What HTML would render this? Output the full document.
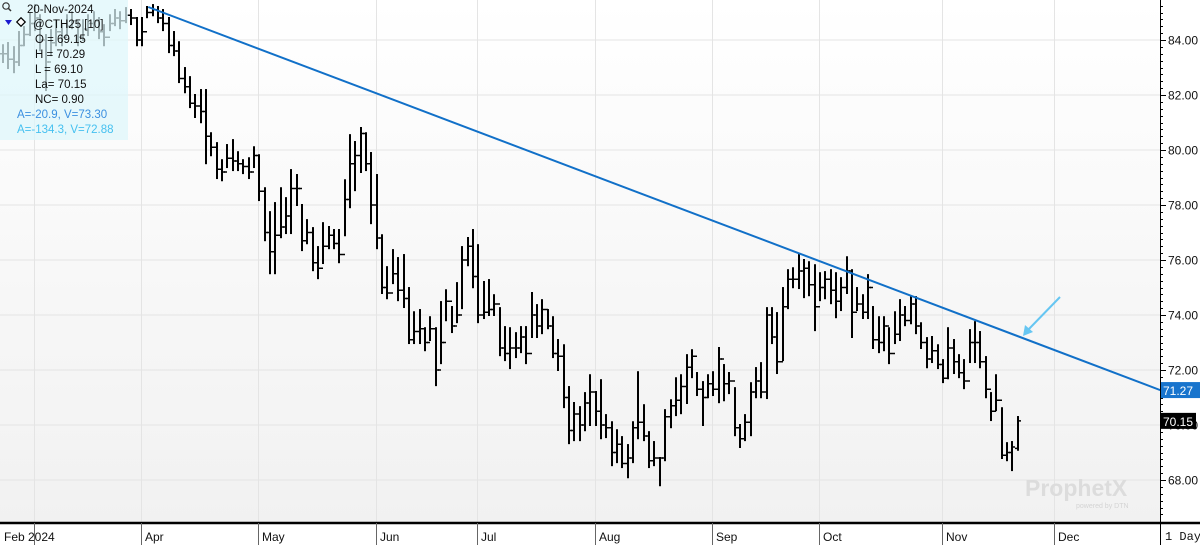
<!DOCTYPE html>
<html><head><meta charset="utf-8"><style>
html,body{margin:0;padding:0;background:#fff;width:1200px;height:545px;overflow:hidden}
svg{display:block;font-family:"Liberation Sans",sans-serif}
</style></head><body>
<svg id="chart" width="1200" height="545" viewBox="0 0 1200 545" xmlns="http://www.w3.org/2000/svg">
<defs>
<linearGradient id="bg" x1="0" y1="0" x2="0" y2="1"><stop offset="0" stop-color="#ffffff"/><stop offset="1" stop-color="#f1f1f1"/></linearGradient>
<clipPath id="plotclip"><rect x="0" y="0" width="1160" height="523"/></clipPath>
</defs>
<rect x="0" y="0" width="1160" height="523" fill="url(#bg)"/>
<rect x="1160" y="0" width="40" height="545" fill="#fff"/>
<g id="grid"></g>
<g id="bars" clip-path="url(#plotclip)"></g>
<g id="trend" clip-path="url(#plotclip)"></g>
<g>
<text x="1025" y="496" font-size="23" font-weight="bold" fill="#dcdcdc">ProphetX</text>
<text x="1076" y="508" font-size="7" fill="#d4d4d4">powered by DTN</text>
</g>
<g>
<line x1="1060" y1="297" x2="1027" y2="331" stroke="#66c6f2" stroke-width="2"/>
<polygon points="1023,336 1025,325 1033,332" fill="#66c6f2"/>
</g>
<g>
<rect x="0" y="0" width="128" height="140" fill="rgba(222,247,251,0.72)"/>
<g><circle cx="6" cy="6" r="3.2" fill="none" stroke="#333" stroke-width="1.2"/><line x1="8.5" y1="8.5" x2="11" y2="11" stroke="#333" stroke-width="1.5"/></g>
<text x="27" y="13" font-size="11.5" fill="#111">20-Nov-2024</text>
<polygon points="5,20 12,20 8.5,25" fill="#1a1ad0"/>
<rect x="18" y="19" width="6" height="6" transform="rotate(45 21 22)" fill="#fff" stroke="#000" stroke-width="1.2"/>
<text x="33" y="28" font-size="11.5" fill="#111">@CTH25 [10]</text>
<text x="35" y="43" font-size="11.5" fill="#111">O = 69.15</text>
<text x="35" y="58" font-size="11.5" fill="#111">H = 70.29</text>
<text x="35" y="73" font-size="11.5" fill="#111">L = 69.10</text>
<text x="35" y="88" font-size="11.5" fill="#111">La= 70.15</text>
<text x="35" y="103" font-size="11.5" fill="#111">NC= 0.90</text>
<text x="17" y="118" font-size="11.5" fill="#3b8fe0">A=-20.9, V=73.30</text>
<text x="17" y="133" font-size="11.5" fill="#45c0f0">A=-134.3, V=72.88</text>
</g>
<g id="yaxis"></g>
<g id="xaxis"></g>
</svg>
<script>
const highs=[83.81,83.89,83.74,84.29,84.47,84.98,85.27,84.90,84.18,84.36,84.72,84.54,84.90,85.01,84.65,84.72,84.90,85.01,84.80,84.54,84.90,85.09,85.01,85.16,85.09,84.80,84.80,85.20,85.27,85.20,85.09,84.80,84.29,83.92,82.98,82.65,82.00,82.18,82.18,80.61,80.25,79.63,80.18,80.36,79.92,79.63,79.70,80.10,79.81,78.61,77.74,78.07,78.61,78.25,79.27,79.09,78.00,77.45,77.16,76.47,77.34,77.20,77.09,77.09,78.90,80.54,80.29,80.80,80.61,79.89,79.09,76.90,75.74,76.36,76.07,76.18,74.98,74.10,74.18,73.52,73.92,73.52,74.47,74.90,74.29,75.16,76.47,76.80,77.09,76.54,75.20,75.27,74.72,74.25,73.56,73.52,73.34,73.56,73.56,74.80,74.36,74.54,74.18,73.92,73.09,72.90,71.38,70.80,70.65,71.16,71.81,71.20,71.63,70.36,70.10,69.81,69.56,69.27,70.10,71.92,70.72,69.74,69.38,68.80,70.54,70.90,71.70,71.81,72.54,72.72,71.89,71.56,71.81,71.92,72.80,72.18,71.89,71.34,70.00,70.36,71.52,72.07,72.25,74.25,74.25,74.07,74.98,75.63,75.70,76.18,76.00,75.92,75.81,75.52,75.56,75.63,75.52,75.34,76.10,75.63,74.98,74.72,75.45,74.29,73.92,73.92,73.52,74.10,74.54,74.29,74.65,74.65,73.70,73.16,73.20,72.90,72.36,73.52,73.09,72.54,72.36,73.45,73.74,73.38,72.47,71.16,71.81,70.61,69.34,69.38,70.29];
const lows=[83.20,82.98,82.83,83.09,83.81,84.18,84.36,83.63,82.18,83.45,83.81,83.81,84.18,84.43,83.81,84.00,84.18,84.36,84.07,83.81,84.36,84.54,84.43,84.65,84.58,83.81,83.81,84.83,84.90,84.65,84.36,83.56,83.45,82.47,82.10,81.56,81.20,81.01,79.52,79.81,78.98,78.90,79.38,79.27,79.27,79.16,78.98,79.38,78.18,76.72,75.52,75.52,76.83,76.98,76.98,78.00,76.36,76.61,75.63,75.34,75.89,76.43,76.43,75.92,76.90,77.92,78.54,79.20,79.27,77.34,76.43,74.80,74.61,75.16,74.54,74.29,72.98,72.98,72.98,72.72,73.09,71.45,72.25,73.81,73.38,73.74,74.25,75.81,75.01,73.74,73.89,74.00,74.00,72.54,72.36,72.07,72.47,72.65,72.25,73.20,73.20,73.34,73.52,72.47,72.00,70.65,69.34,69.45,69.45,69.81,70.00,70.00,69.52,69.56,68.54,68.65,68.47,68.10,68.65,69.52,69.45,68.47,68.54,67.81,68.72,69.92,70.36,70.43,70.80,71.74,71.09,70.00,71.01,71.09,70.83,70.90,71.16,69.63,69.20,69.45,69.63,71.01,71.01,70.98,72.98,71.89,72.36,74.25,75.01,74.98,74.65,74.72,73.45,74.54,74.61,74.43,73.92,74.18,74.80,73.20,74.18,73.89,73.89,72.80,72.65,72.72,72.25,72.98,73.09,73.63,73.70,73.34,72.80,72.10,72.29,72.07,71.56,71.70,71.89,71.74,71.34,72.29,72.29,72.10,71.01,70.18,70.54,68.80,68.72,68.36,69.10];
const closes=[83.5,83.3,83.2,83.8,84.2,84.6,84.8,84.0,83.2,83.9,84.3,84.1,84.5,84.7,84.1,84.4,84.6,84.7,84.3,84.1,84.6,84.8,84.7,84.9,84.8,84.0,84.3,85.0,85.1,84.8,84.6,83.8,83.6,82.6,82.3,81.7,81.6,81.4,80.5,80.1,79.3,79.2,79.7,79.6,79.5,79.4,79.2,79.8,78.5,77.0,76.3,76.9,77.2,77.6,78.6,78.6,76.7,77.0,75.9,75.7,76.5,76.9,76.6,76.2,78.2,79.5,79.8,80.6,79.5,78.0,76.8,75.0,74.8,75.5,74.9,74.6,73.1,73.4,73.5,73.0,73.5,72.0,73.0,74.5,73.6,74.0,76.0,76.5,75.4,74.0,74.1,74.2,74.4,72.8,72.6,72.8,72.8,73.2,72.6,74.0,73.6,74.2,73.6,72.6,72.5,71.0,69.8,70.4,70.0,70.8,71.2,70.5,70.0,69.9,69.0,69.3,68.6,68.8,69.9,70.1,69.6,68.7,68.8,68.8,70.3,70.7,70.9,71.4,72.1,72.5,71.3,71.0,71.5,71.3,72.4,71.5,71.6,69.9,69.5,70.1,71.2,71.6,71.2,74.0,73.2,72.3,74.3,75.3,75.3,75.6,75.7,75.1,74.3,75.0,75.3,74.9,74.5,75.0,75.6,74.1,74.4,74.1,75.0,73.1,73.0,73.6,72.6,73.3,74.0,73.8,74.4,73.6,73.0,72.4,72.7,72.2,71.7,72.8,72.3,71.9,71.6,73.0,73.0,72.3,71.3,70.5,70.9,68.9,69.0,69.2,70.15];
const lastOpen=69.15;
const monthLabels=["Feb 2024","","Apr","May","Jun","Jul","Aug","Sep","Oct","Nov","Dec"];
const monthIdx=[-0.4,6,26,48,70,89,111,133,153,176,197];
const priceTicks=[68,70,72,74,76,78,80,82,84];
const trendStart=[27.2,85.2];
const trendEnd=[216.7,71.27];
const lastPrice=70.15;

const NS="http://www.w3.org/2000/svg";
const X0=3,STEP=5.34;
function xs(i){return X0+i*STEP;}
function ys(p){return 40+(84-p)*27.5;}
function mk(tag,attrs,parent){const e=document.createElementNS(NS,tag);for(const k in attrs)e.setAttribute(k,attrs[k]);parent.appendChild(e);return e;}

const grid=document.getElementById('grid');
priceTicks.forEach(p=>{
  const l=mk('line',{x1:0,x2:1160,y1:ys(p),y2:ys(p),stroke:'#e4e4e4','stroke-width':1},grid);
  
  
});
monthIdx.forEach((m,k)=>{
  if(k===0)return;
  const x=Math.round(xs(m)-1)+0.5;
  const l=mk('line',{x1:x,x2:x,y1:0,y2:523,stroke:'#e4e4e4','stroke-width':1},grid);
  
  
});

const bars=document.getElementById('bars');
highs.forEach((h,i)=>{
  const x=Math.round(xs(i));
  const o=(i===highs.length-1)?lastOpen:(i>0?closes[i-1]:closes[0]);
  const g=mk('g',{stroke:'#000','stroke-width':2},bars);
  
  
  mk('line',{x1:x,x2:x,y1:ys(h)-1,y2:ys(lows[i])+1},g);
  mk('line',{x1:x-3,x2:x,y1:ys(o),y2:ys(o),'stroke-width':1.5},g);
  mk('line',{x1:x,x2:x+3,y1:ys(closes[i]),y2:ys(closes[i]),'stroke-width':1.5},g);
});

const trend=document.getElementById('trend');
const tl=mk('line',{x1:xs(trendStart[0]),y1:ys(trendStart[1]),x2:xs(trendEnd[0]),y2:ys(trendEnd[1]),stroke:'#1170c8','stroke-width':2},trend);



const ya=document.getElementById('yaxis');
mk('line',{x1:1160.5,x2:1160.5,y1:0,y2:523,stroke:'#000','stroke-width':1},ya);
for(let p=66;p<=86;p+=0.25){
  const y=ys(p); if(y<0||y>521)continue;
  const major=Math.abs(p%2)<1e-6;
  mk('line',{x1:1160,x2:1160+(major?6:3),y1:Math.round(y)+0.5,y2:Math.round(y)+0.5,stroke:'#000','stroke-width':1},ya);
}
priceTicks.forEach(p=>{
  const t=mk('text',{x:1168,y:ys(p)+4.5,'font-size':12,fill:'#111'},ya);
  t.textContent=p.toFixed(2);
  
  
});
const tb=mk('rect',{x:1161,y:ys(trendEnd[1])-8,width:39,height:16,fill:'#1874cd'},ya);


const tt=mk('text',{x:1163,y:ys(trendEnd[1])+5,'font-size':12,fill:'#fff'},ya);
tt.textContent=trendEnd[1].toFixed(2);


const lb=mk('rect',{x:1161,y:ys(lastPrice)-8,width:35,height:16,fill:'#000'},ya);


const lt=mk('text',{x:1163,y:ys(lastPrice)+5,'font-size':12,fill:'#fff'},ya);
lt.textContent=lastPrice.toFixed(2);



const xa=document.getElementById('xaxis');
mk('rect',{x:0,y:523,width:1200,height:22,fill:'#fff'},xa);
mk('line',{x1:0,x2:1200,y1:523,y2:523,stroke:'#000','stroke-width':2.5},xa);
monthIdx.forEach((m,k)=>{
  const x=Math.round(xs(m)-1)+0.5;
  if(k>0){mk('line',{x1:x,x2:x,y1:523,y2:545,stroke:'#666','stroke-width':1},xa);}
  if(monthLabels[k]){
    const t=mk('text',{x:Math.max(3,x+3.5),y:541,'font-size':12,fill:'#111'},xa);
    t.textContent=monthLabels[k];
    
    
  }
});
mk('line',{x1:1160.5,x2:1160.5,y1:523,y2:545,stroke:'#000','stroke-width':1},xa);
const per=mk('text',{x:1165,y:540,'font-size':12,fill:'#111','font-family':'Liberation Mono, monospace'},xa);
per.textContent='1 Day';


</script>
</body></html>
